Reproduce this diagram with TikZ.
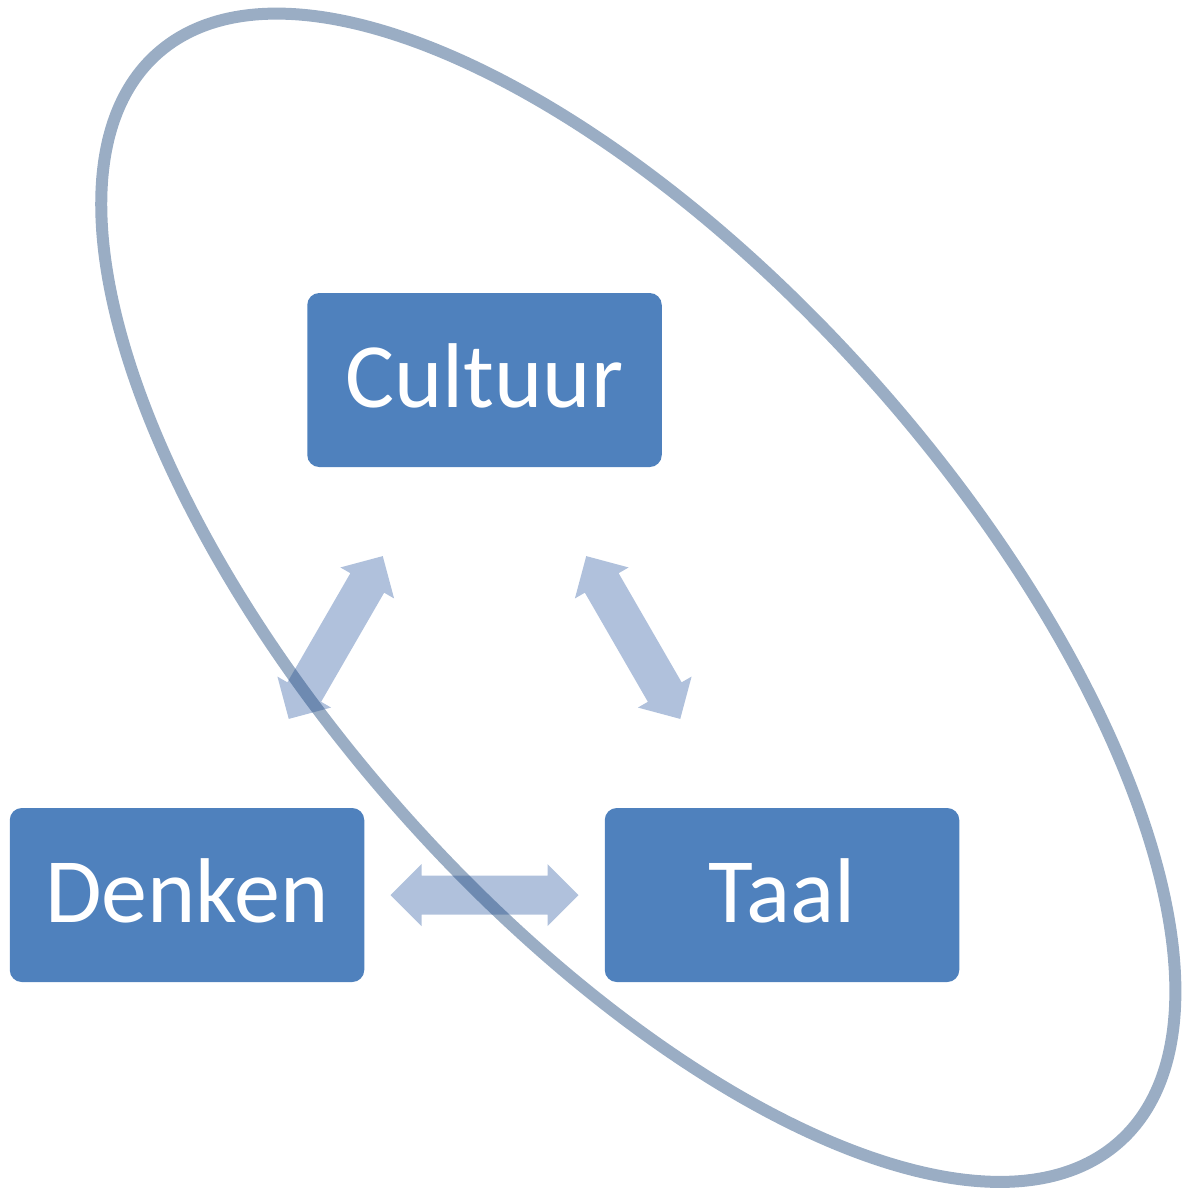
\documentclass[tikz,border=0pt]{standalone}
\usepackage{fontspec}
\setmainfont{Carlito}
\usetikzlibrary{calc}
\definecolor{boxblue}{RGB}{79,129,189}
\definecolor{arrowblue}{RGB}{176,193,220}
\definecolor{ringblue}{RGB}{31,73,125}
\tikzset{
  conceptbox/.style={fill=boxblue, draw=none, rounded corners=12pt,
    minimum width=354.5pt, minimum height=174pt, inner sep=0pt,
    text=white, font=\fontsize{92}{110}\selectfont,
    text height=64pt, text depth=9pt},
  ringline/.style={draw=ringblue, draw opacity=0.45, line width=12pt},
  pics/dblarrow/.style={code={
    \fill[arrowblue] (-94,0) -- (-63,-31) -- (-63,-19.5) -- (63,-19.5) -- (63,-31)
      -- (94,0) -- (63,31) -- (63,19.5) -- (-63,19.5) -- (-63,31) -- cycle;}}
}
\begin{document}
\begin{tikzpicture}[x=1pt,y=-1pt]
\useasboundingbox (0,0) rectangle (1182,1192);
\node[conceptbox] (cultuur) at (484.5,380) {Cultuur};
\node[conceptbox] (denken) at (187,895) {Denken};
\node[conceptbox] (taal) at (782,895) {Taal};
\pic[rotate=60] (ardc) at ($(denken)!0.5!(cultuur)$) {dblarrow};
\pic[rotate=-60] (arct) at ($(cultuur)!0.5!(taal)$) {dblarrow};
\pic (ardt) at ($(denken)!0.5!(taal)$) {dblarrow};
\coordinate (ec) at (638.3,597.8);
\draw[ringline, rotate around={-48.56:(ec)}] (ec) ellipse [x radius=726.3, y radius=319.3];
\end{tikzpicture}
\end{document}
